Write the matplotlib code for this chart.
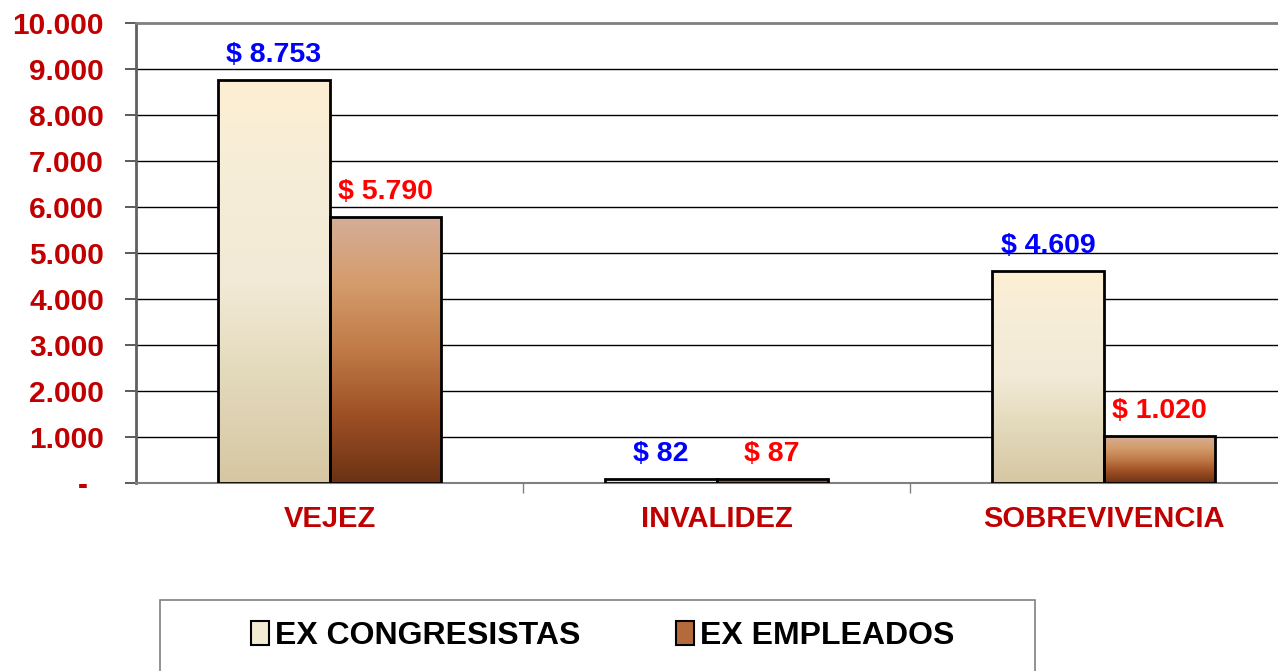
import numpy as np
import matplotlib.pyplot as plt
from matplotlib.colors import LinearSegmentedColormap
from matplotlib.patches import Rectangle, Patch

plt.rcParams['font.family'] = ['Liberation Sans', 'DejaVu Sans']
plt.rcParams['font.weight'] = 'bold'

categories = ["VEJEZ", "INVALIDEZ", "SOBREVIVENCIA"]
ex_congresistas = [8753, 82, 4609]
ex_empleados = [5790, 87, 1020]
series_names = ["EX CONGRESISTAS", "EX EMPLEADOS"]
yticks = [0, 1000, 2000, 3000, 4000, 5000, 6000, 7000, 8000, 9000, 10000]
ytick_labels = ["-  ", "1.000", "2.000", "3.000", "4.000", "5.000",
                "6.000", "7.000", "8.000", "9.000", "10.000"]

cmap_cong = LinearSegmentedColormap.from_list(
    "cong", ["#D6C7A2", "#E2D8BA", "#F2EAD6", "#F6EDD8", "#FDEFD3"])
cmap_emp = LinearSegmentedColormap.from_list(
    "emp", ["#6A3214", "#9E4F24", "#C07A48", "#D49C6C", "#D5AE98"])

fig = plt.figure(figsize=(12.78, 6.71), dpi=100)
ax = fig.add_axes([136 / 1278, 188 / 671, 1161 / 1278, 460 / 671])

x = np.arange(len(categories))
w = 0.287

for yv in yticks[1:-1]:
    ax.axhline(yv, color="black", lw=1, zorder=1)

grad = np.linspace(0, 1, 256).reshape(-1, 1)


def gradient_bars(xs, vals, cmap):
    bars = ax.bar(xs, vals, w, facecolor="none", edgecolor="black",
                  linewidth=2, zorder=4)
    for b in bars:
        x0, y0 = b.get_x(), b.get_y()
        im = ax.imshow(grad, cmap=cmap, origin="lower", aspect="auto",
                       extent=[x0, x0 + b.get_width(), y0, y0 + b.get_height()],
                       zorder=3)
        im.set_clip_path(b)
    return bars


gradient_bars(x - w / 2, ex_congresistas, cmap_cong)
gradient_bars(x + w / 2, ex_empleados, cmap_emp)
ax.set_xlim(-0.5, 2.5)
ax.set_ylim(0, 10000)


def fmt(v):
    return "$ " + f"{v:,}".replace(",", ".")


for xi, v in zip(x - w / 2, ex_congresistas):
    ax.text(xi, v + 260, fmt(v), color="#0000FF", fontsize=20.5,
            fontweight="bold", ha="center", va="bottom")
for xi, v in zip(x + w / 2, ex_empleados):
    ax.text(xi, v + 260, fmt(v), color="#FF0000", fontsize=20.5,
            fontweight="bold", ha="center", va="bottom")

ax.set_yticks(yticks)
ax.set_yticklabels(ytick_labels, color="#C00000", fontsize=21.5, fontweight="bold")
ax.tick_params(axis="y", length=8, width=1.2, color="#404040", pad=15)

ax.set_xticks([0.5, 1.5])
ax.set_xticklabels([])
ax.tick_params(axis="x", length=7, width=1, color="#808080")
for xi, c in zip(x, categories):
    ax.text(xi, -780, c, color="#C00000", fontsize=21, fontweight="bold",
            ha="center", va="center")

ax.spines["left"].set_color("#606060")
ax.spines["left"].set_linewidth(2)
ax.spines["top"].set_color("#808080")
ax.spines["top"].set_linewidth(2)
ax.spines["bottom"].set_color("#808080")
ax.spines["bottom"].set_linewidth(1.5)
ax.spines["right"].set_visible(False)

# legend box
fig.patches.append(Rectangle((160 / 1278, -0.05), 875 / 1278, 0.05 + 71 / 671,
                             transform=fig.transFigure, facecolor="white",
                             edgecolor="#808080", linewidth=1.2))
handles = [Patch(facecolor="#F3EAD2", edgecolor="black", linewidth=1.5),
           Patch(facecolor="#B56A3C", edgecolor="black", linewidth=1.5)]
fig.legend(handles, series_names, loc="center", ncol=2,
           bbox_to_anchor=(603 / 1278, 1 - 636 / 671), frameon=False,
           prop={"size": 23, "weight": "bold"}, handlelength=0.55,
           handleheight=0.75, handletextpad=0.2, columnspacing=3.0)

fig.savefig("out.png", dpi=100)
